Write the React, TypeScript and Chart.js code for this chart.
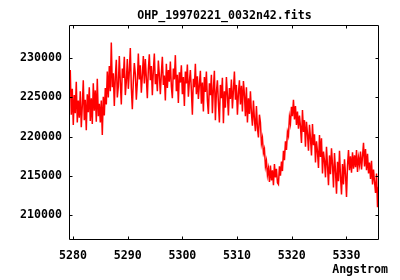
import React, { useEffect, useRef } from "react";
import { Chart, registerables } from "chart.js";

Chart.register(...registerables);

// Spectrum sampling grid (FITS-style start wavelength and dispersion per pixel)
const LAMBDA_START = 5279.5;
const LAMBDA_STEP = 0.183;

// Flux values, one per sample
const flux: number[] = [
  228500, 222800, 226100, 221500, 225300, 223000, 227000, 221800, 224600, 222400,
  225800, 221200, 223900, 227200, 222100, 224700, 220800, 225400, 223100, 226300,
  222000, 224900, 221600, 226800, 223300, 225900, 221900, 227400, 222600, 224200,
  221800, 224600, 220200, 225100, 222700, 226200, 224100, 228300, 225000, 229000,
  225800, 232000, 226300, 228100, 223900, 227600, 229800, 225000, 226400, 230300,
  226900, 224100, 228700, 227500, 230200, 225300, 227000, 229900, 226100, 228300,
  231300, 226200, 223500, 227100, 229400, 228000, 224700, 226900, 230600, 227300,
  229100, 225600, 227800, 230300, 226800, 229900, 227500, 224900, 228600, 230500,
  227200, 229000, 225300, 228400, 230600, 226700, 228000, 225800, 229700, 227900,
  225400, 228100, 230200, 226600, 227800, 224600, 229300, 226200, 228500, 227000,
  229600, 226400, 224900, 228700, 227300, 230400, 225800, 227900, 224300, 228200,
  226900, 229100, 225400, 227600, 223900, 228300, 226800, 229200, 225100, 227000,
  228500, 225900, 222800, 227400, 226300, 229300, 225400, 227700, 224800, 226600,
  228400, 224200, 226900, 223200, 227600, 225700, 228300, 224600, 222900, 226800,
  225300, 227900, 223000, 226100, 228400, 222100, 225700, 227200, 224300, 221800,
  226600, 224900, 227500, 221700, 225800, 223700, 227600, 225300, 222700, 226200,
  224800, 227300, 223600, 225900, 228300, 224700, 226600, 222800, 225500, 227200,
  224100, 226500, 223200, 227100, 225400, 222600, 226300, 221800, 224900, 222900,
  225800, 223000, 221400, 224600, 222200, 220700, 223900, 221100, 219900, 222800,
  221800, 219100, 219800, 217900, 218400, 216200, 216900, 215100, 215900, 214200,
  216300, 214400, 215700, 213800, 216500, 214800, 215900, 214100, 213900, 216200,
  215000, 216800, 215600, 218200, 217000, 219400, 218300, 220600, 220100, 222500,
  221700, 223800, 222600, 224700, 222200, 223900, 221500, 223200, 221000, 222700,
  221300, 219200, 223400, 220600, 222100, 218700, 221900, 220400, 218200, 221500,
  219800, 217600, 221600, 218900, 220300, 216700, 219400, 218100, 216000, 220200,
  217400, 219800, 215300, 218100, 216900, 214800, 218700, 216300, 213800, 217600,
  215200, 218500, 216400, 213500, 217900, 215600, 212700, 216800, 214300, 218200,
  214900, 212600, 216500, 213900, 217100, 215200, 212300, 216300, 218300, 215700,
  217500, 215400, 218000, 215900, 217600, 216100, 218300, 215500, 217300, 216400,
  218100, 215800, 217500, 219200, 216200, 218400, 215700, 217800, 215300, 216700,
  214600, 216900, 213900, 215800, 214200, 212800, 215300, 211000, 213600,
];

const xTicks: number[] = [5280, 5290, 5300, 5310, 5320, 5330];
const yTicks: number[] = [210000, 215000, 220000, 225000, 230000];

const TITLE = "OHP_19970221_0032n42.fits";
const X_LABEL = "Angstrom";

const FONT_FAMILY = "'DejaVu Sans Mono', 'Liberation Mono', monospace";

const framePlugin = {
  id: "gnuplotFrame",
  afterDraw(chart: any) {
    const { ctx, chartArea } = chart;
    const { left, right, top, bottom } = chartArea;
    const xs = chart.scales.x;
    const ys = chart.scales.y;
    ctx.save();
    ctx.strokeStyle = "#000";
    ctx.lineWidth = 1;
    const L = Math.round(left) - 0.5;
    const R = Math.round(right) - 0.5;
    const T = Math.round(top) + 0.5;
    const B = Math.round(bottom) - 0.5;
    ctx.beginPath();
    ctx.rect(L, T, R - L, B - T);
    ctx.stroke();
    const tl = 3;
    ctx.beginPath();
    xTicks.forEach((v) => {
      const px = Math.round(xs.getPixelForValue(v)) + 0.5;
      ctx.moveTo(px, B);
      ctx.lineTo(px, B - tl);
      ctx.moveTo(px, T);
      ctx.lineTo(px, T + tl);
    });
    yTicks.forEach((v) => {
      const py = Math.round(ys.getPixelForValue(v)) + 0.5;
      ctx.moveTo(L, py);
      ctx.lineTo(L + tl, py);
      ctx.moveTo(R, py);
      ctx.lineTo(R - tl, py);
    });
    ctx.stroke();

    ctx.fillStyle = "#000";
    ctx.font = `bold 11.6px ${FONT_FAMILY}`;
    ctx.textBaseline = "alphabetic";
    ctx.textAlign = "center";
    ctx.fillText(TITLE, (left + right) / 2, 18.5);
    ctx.textAlign = "right";
    ctx.fillText(X_LABEL, 388, 273);
    ctx.restore();
  },
};

export default function App() {
  const ref = useRef<HTMLCanvasElement | null>(null);

  useEffect(() => {
    if (!ref.current) return;
    const points = flux.map((f, i) => ({ x: LAMBDA_START + i * LAMBDA_STEP, y: f }));
    const chart = new Chart(ref.current, {
      type: "line",
      data: {
        datasets: [
          {
            data: points,
            borderColor: "#ff0000",
            borderWidth: 1.5,
            pointRadius: 0,
            tension: 0,
            fill: false,
          },
        ],
      },
      options: {
        animation: false,
        responsive: false,
        events: [],
        layout: { padding: { left: 0, right: 21, top: 25, bottom: 0 } },
        plugins: {
          legend: { display: false },
          title: { display: false },
          tooltip: { enabled: false },
        },
        scales: {
          x: {
            type: "linear",
            min: 5279.45,
            max: 5335.95,
            grid: { display: false, drawTicks: false },
            border: { display: false },
            afterBuildTicks: (s: any) => {
              s.ticks = xTicks.map((v) => ({ value: v }));
            },
            afterFit: (s: any) => {
              s.height = 40;
            },
            ticks: {
              padding: 9,
              color: "#000",
              maxRotation: 0,
              autoSkip: false,
              font: { family: FONT_FAMILY, weight: "bold", size: 11.6 },
              callback: (v: any) => String(v),
            },
          },
          y: {
            type: "linear",
            min: 206800,
            max: 234250,
            grid: { display: false, drawTicks: false },
            border: { display: false },
            afterBuildTicks: (s: any) => {
              s.ticks = yTicks.map((v) => ({ value: v }));
            },
            afterFit: (s: any) => {
              s.width = 70;
            },
            ticks: {
              padding: 8,
              color: "#000",
              autoSkip: false,
              font: { family: FONT_FAMILY, weight: "bold", size: 11.6 },
              callback: (v: any) => String(v),
            },
          },
        },
      },
      plugins: [framePlugin],
    });
    return () => chart.destroy();
  }, []);

  return (
    <div style={{ position: "fixed", left: 0, top: 0, width: 400, height: 280, background: "#fff" }}>
      <canvas ref={ref} width={400} height={280} style={{ width: 400, height: 280, display: "block" }} />
    </div>
  );
}
